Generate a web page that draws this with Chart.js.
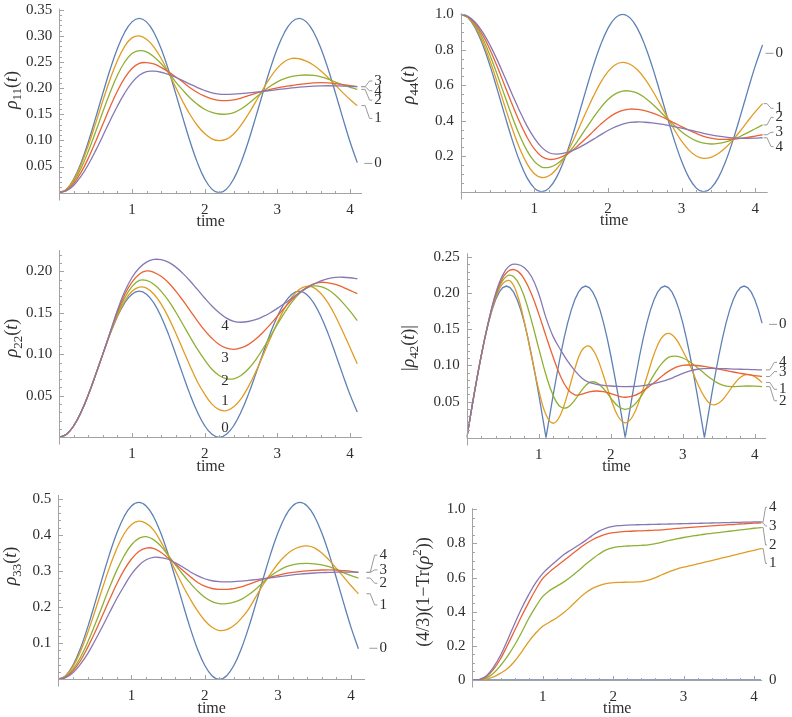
<!DOCTYPE html>
<html>
<head>
<meta charset="utf-8">
<title>Density matrix elements versus time</title>
<script src="https://cdn.jsdelivr.net/npm/chart.js@4.4.1/dist/chart.umd.min.js"></script>
<style>
  html, body { margin: 0; padding: 0; background: #ffffff; }
  #sheet { position: relative; width: 792px; height: 717px; overflow: hidden; }
  #sheet canvas { position: absolute; }
</style>
</head>
<body>
<div id="sheet"></div>
<script>
// Time samples shared by all curves
const T = [0,0.1,0.2,0.3,0.4,0.5,0.6,0.7,0.8,0.9,1,1.1,1.2,1.3,1.4,1.5,1.6,1.7,1.8,1.9,2,2.1,2.2,2.3,2.4,2.5,2.6,2.7,2.8,2.9,3,3.1,3.2,3.3,3.4,3.5,3.6,3.7,3.8,3.9,4,4.1];
// Finer samples for the cusped |rho42| curve 0
const T_FINE = [0,0.05,0.1,0.15,0.2,0.25,0.3,0.35,0.4,0.45,0.5,0.55,0.6,0.65,0.7,0.75,0.8,0.85,0.9,0.95,1,1.05,1.1,1.15,1.2,1.25,1.3,1.35,1.4,1.45,1.5,1.55,1.6,1.65,1.7,1.75,1.8,1.85,1.9,1.95,2,2.05,2.1,2.15,2.2,2.25,2.3,2.35,2.4,2.45,2.5,2.55,2.6,2.65,2.7,2.75,2.8,2.85,2.9,2.95,3,3.05,3.1,3.15,3.2,3.25,3.3,3.35,3.4,3.45,3.5,3.55,3.6,3.65,3.7,3.75,3.8,3.85,3.9,3.95,4,4.05,4.1];

// rho11(t), curves 0..4
const R11_0 = [0,.0068,.0264,.0575,.0974,.1430,.1904,.2359,.2758,.3069,.3266,.3333,.3266,.3069,.2758,.2359,.1904,.1430,.0974,.0575,.0264,.0068,0,.0068,.0264,.0575,.0974,.1430,.1904,.2359,.2758,.3069,.3266,.3333,.3266,.3069,.2758,.2359,.1904,.1430,.0974,.0575];
const R11_1 = [0,.0063,.0247,.0536,.0907,.1326,.1760,.2173,.2529,.2799,.2960,.2998,.2935,.2790,.2570,.2305,.2020,.1740,.1490,.1285,.1130,.1030,.0995,.1024,.1124,.1290,.1500,.1733,.1972,.2197,.2381,.2508,.2567,.2561,.2516,.2437,.2328,.2197,.2057,.1914,.1780,.1665];
const R11_2 = [0,.0055,.0215,.0469,.0794,.1164,.1551,.1921,.2246,.2499,.2660,.2715,.2693,.2600,.2470,.2300,.2120,.1960,.1810,.1690,.1595,.1535,.1505,.1502,.1530,.1600,.1700,.1815,.1930,.2035,.2120,.2180,.2222,.2245,.2250,.2242,.2215,.2170,.2115,.2060,.2015,.1975];
const R11_3 = [0,.0045,.0178,.0390,.0662,.0978,.1312,.1642,.1943,.2195,.2375,.2474,.2488,.2462,.2395,.2310,.2215,.2115,.2005,.1915,.1845,.1795,.1765,.1760,.1775,.1810,.1855,.1900,.1940,.1975,.2005,.2030,.2050,.2070,.2085,.2098,.2103,.2098,.2085,.2068,.2048,.2028];
const R11_4 = [0,.0037,.0144,.0315,.0540,.0804,.1090,.1381,.1658,.1904,.2104,.2245,.2317,.2323,.2303,.2263,.2207,.2144,.2076,.2010,.1954,.1910,.1885,.1880,.1885,.1895,.1908,.1922,.1937,.1953,.1970,.1987,.2003,.2017,.2029,.2038,.2043,.2045,.2043,.2039,.2034,.2027];

// rho44(t)
const R44_0 = [1,.9797,.9207,.8274,.7077,.5711,.4289,.2923,.1726,.0794,.0203,0,.0203,.0794,.1726,.2923,.4289,.5711,.7077,.8274,.9207,.9797,1,.9797,.9207,.8274,.7077,.5711,.4289,.2923,.1726,.0794,.0203,0,.0203,.0794,.1726,.2923,.4289,.5711,.7077,.8274];
const R44_1 = [1,.9817,.9283,.8439,.7350,.6107,.4810,.3558,.2452,.1582,.1010,.0800,.0899,.1266,.1861,.2636,.3538,.4459,.5357,.6150,.6765,.7156,.7290,.7182,.6869,.6373,.5733,.5003,.4241,.3506,.2857,.2345,.2010,.1880,.1941,.2150,.2487,.2928,.3437,.3980,.4495,.4963];
const R44_2 = [1,.9840,.9370,.8625,.7665,.6552,.5380,.4225,.3184,.2319,.1709,.1389,.1373,.1550,.1890,.2363,.2933,.3550,.4165,.4730,.5192,.5516,.5675,.5670,.5552,.5300,.4960,.4560,.4140,.3740,.3380,.3080,.2860,.2735,.2690,.2720,.2807,.2946,.3125,.3332,.3550,.3765];
const R44_3 = [1,.9863,.9460,.8822,.7986,.7010,.5960,.4914,.3927,.3075,.2412,.1986,.1820,.1867,.2024,.2264,.2623,.2997,.3401,.3795,.4139,.4412,.4590,.4660,.4638,.4566,.4442,.4280,.4090,.3880,.3666,.3462,.3282,.3125,.3019,.2955,.2951,.2970,.3008,.3063,.3135,.3210];
const R44_4 = [1,.9880,.9535,.8979,.8249,.7388,.6445,.5485,.4553,.3712,.3014,.2498,.2196,.2121,.2172,.2293,.2472,.2699,.2947,.3205,.3448,.3654,.3813,.3906,.3930,.3915,.3880,.3827,.3756,.3670,.3582,.3484,.3387,.3293,.3206,.3133,.3074,.3033,.3013,.3010,.3020,.3040];

// rho22(t)
const R22_0 = [0,.0036,.0140,.0304,.0514,.0755,.1005,.1246,.1456,.1620,.1724,.1760,.1724,.1620,.1456,.1246,.1005,.0755,.0514,.0304,.0140,.0036,0,.0036,.0140,.0304,.0514,.0755,.1005,.1246,.1456,.1620,.1724,.1760,.1724,.1620,.1456,.1246,.1005,.0755,.0514,.0304];
const R22_1 = [0,.0036,.0140,.0304,.0514,.0755,.1005,.1250,.1465,.1640,.1760,.1810,.1797,.1726,.1607,.1448,.1260,.1059,.0857,.0669,.0519,.0400,.0333,.0321,.0367,.0463,.0607,.0782,.0978,.1183,.1379,.1553,.1689,.1780,.1819,.1803,.1733,.1616,.1458,.1275,.1081,.0886];
const R22_2 = [0,.0036,.0140,.0304,.0514,.0755,.1005,.1255,.1490,.1680,.1815,.1890,.1890,.1844,.1761,.1648,.1512,.1362,.1208,.1061,.0932,.0819,.0744,.0705,.0705,.0745,.0822,.0930,.1064,.1210,.1360,.1503,.1628,.1728,.1796,.1824,.1815,.1777,.1711,.1622,.1519,.1406];
const R22_3 = [0,.0036,.0140,.0304,.0514,.0755,.1005,.1262,.1515,.1720,.1870,.1965,.2004,.1988,.1940,.1864,.1763,.1649,.1526,.1403,.1288,.1193,.1117,.1073,.1060,.1076,.1117,.1180,.1262,.1357,.1458,.1561,.1657,.1740,.1804,.1848,.1867,.1860,.1842,.1810,.1770,.1730];
const R22_4 = [0,.0036,.0140,.0304,.0514,.0755,.1005,.1268,.1530,.1755,.1925,.2040,.2110,.2142,.2140,.2110,.2053,.1975,.1883,.1781,.1678,.1582,.1500,.1435,.1397,.1386,.1395,.1417,.1453,.1498,.1553,.1613,.1676,.1738,.1795,.1844,.1884,.1912,.1926,.1928,.1922,.1910];

// |rho42(t)|  (curve 0 on T_FINE)
const R42_0 = [0,.0299,.0592,.0872,.1135,.1375,.1587,.1767,.1910,.2015,.2079,.2100,.2079,.2015,.1910,.1767,.1587,.1375,.1135,.0872,.0592,.0299,
               0,.0299,.0592,.0872,.1135,.1375,.1587,.1767,.1910,.2015,.2079,.2100,.2079,.2015,.1910,.1767,.1587,.1375,.1135,.0872,.0592,.0299,
               0,.0299,.0592,.0872,.1135,.1375,.1587,.1767,.1910,.2015,.2079,.2100,.2079,.2015,.1910,.1767,.1587,.1375,.1135,.0872,.0592,.0299,
               0,.0299,.0592,.0872,.1135,.1375,.1587,.1767,.1910,.2015,.2079,.2100,.2079,.2015,.1910,.1767,.1587];
const R42_1 = [0,.0592,.1135,.1590,.1935,.2135,.2173,.1983,.1601,.1118,.0657,.0318,.0200,.0314,.0607,.0953,.1212,.1269,.1128,.0854,.0540,.0297,.0206,.0290,.0525,.0841,.1155,.1375,.1445,.1374,.1200,.1000,.0760,.0565,.0460,.0480,.0585,.0725,.0838,.0877,.0845,.0765];
const R42_2 = [0,.0592,.1135,.1595,.1955,.2180,.2253,.2173,.1948,.1615,.1234,.0869,.0583,.0427,.0421,.0521,.0662,.0762,.0764,.0678,.0549,.0436,.0393,.0433,.0544,.0702,.0873,.1020,.1113,.1130,.1104,.1049,.0973,.0890,.0812,.0749,.0713,.0707,.0712,.0716,.0714,.0708];
const R42_3 = [0,.0592,.1135,.1600,.1975,.2215,.2320,.2310,.2193,.1986,.1712,.1407,.1113,.0854,.0674,.0594,.0605,.0635,.0647,.0637,.0612,.0578,.0560,.0575,.0618,.0685,.0762,.0844,.0918,.0973,.1003,.1006,.1000,.0988,.0970,.0950,.0930,.0910,.0892,.0875,.0860,.0848];
const R42_4 = [0,.0592,.1135,.1605,.1995,.2255,.2385,.2400,.2355,.2230,.1990,.1660,.1400,.1220,.1060,.0930,.0825,.0765,.0740,.0726,.0716,.0710,.0707,.0709,.0715,.0728,.0748,.0775,.0808,.0848,.0890,.0925,.0948,.0958,.0960,.0958,.0955,.0951,.0948,.0945,.0942,.0939];

// rho33(t)
const R33_0 = [0,.0099,.0389,.0846,.1432,.2102,.2798,.3468,.4054,.4511,.4801,.4900,.4801,.4511,.4054,.3468,.2798,.2102,.1432,.0846,.0389,.0099,0,.0099,.0389,.0846,.1432,.2102,.2798,.3468,.4054,.4511,.4801,.4900,.4801,.4511,.4054,.3468,.2798,.2102,.1432,.0846];
const R33_1 = [0,.0089,.0347,.0756,.1280,.1879,.2501,.3100,.3624,.4032,.4291,.4380,.4320,.4140,.3815,.3430,.3010,.2600,.2230,.1900,.1630,.1440,.1350,.1375,.1489,.1686,.1946,.2290,.2630,.2920,.3200,.3420,.3580,.3670,.3695,.3640,.3500,.3300,.3070,.2830,.2590,.2370];
const R33_2 = [0,.0069,.0275,.0596,.1018,.1508,.2025,.2547,.3024,.3423,.3726,.3905,.3950,.3870,.3690,.3440,.3170,.2910,.2670,.2450,.2270,.2150,.2095,.2095,.2135,.2215,.2340,.2500,.2690,.2860,.3000,.3105,.3170,.3203,.3210,.3200,.3170,.3120,.3040,.2950,.2870,.2805];
const R33_3 = [0,.0059,.0233,.0507,.0878,.1294,.1752,.2208,.2646,.3030,.3332,.3541,.3635,.3627,.3520,.3360,.3195,.3020,.2850,.2690,.2580,.2515,.2492,.2492,.2510,.2560,.2630,.2705,.2770,.2830,.2880,.2925,.2960,.2985,.3005,.3018,.3027,.3030,.3025,.3010,.2990,.2960];
const R33_4 = [0,.0047,.0184,.0414,.0705,.1068,.1449,.1849,.2238,.2588,.2914,.3154,.3312,.3378,.3369,.3325,.3225,.3110,.2980,.2870,.2785,.2730,.2705,.2700,.2705,.2720,.2740,.2762,.2785,.2810,.2838,.2865,.2890,.2912,.2930,.2945,.2955,.2962,.2966,.2968,.2968,.2965];

// (4/3)(1-Tr(rho^2))
const MIX_0 = [0,0,0,0,0,0,0,0,0,0,0,0,0,0,0,0,0,0,0,0,0,0,0,0,0,0,0,0,0,0,0,0,0,0,0,0,0,0,0,0,0,0];
const MIX_1 = [0,.0005,.005,.018,.040,.068,.110,.165,.225,.275,.315,.340,.365,.395,.432,.472,.508,.535,.553,.565,.570,.572,.573,.574,.577,.585,.600,.618,.635,.650,.661,.670,.680,.690,.700,.710,.720,.730,.740,.750,.760,.770];
const MIX_2 = [0,.001,.012,.040,.085,.140,.205,.280,.360,.430,.490,.525,.550,.575,.605,.638,.675,.708,.738,.762,.776,.782,.785,.787,.789,.792,.799,.808,.818,.827,.835,.842,.848,.854,.859,.864,.869,.874,.879,.884,.889,.893];
const MIX_3 = [0,.002,.020,.062,.125,.205,.290,.375,.455,.530,.595,.635,.668,.700,.733,.765,.795,.820,.840,.855,.863,.868,.871,.873,.874,.876,.878,.880,.884,.888,.891,.894,.897,.900,.903,.906,.909,.911,.914,.917,.919,.921];
const MIX_4 = [0,.003,.025,.075,.145,.235,.330,.420,.500,.570,.625,.665,.700,.735,.762,.788,.815,.846,.872,.890,.900,.905,.908,.909,.910,.911,.912,.913,.914,.915,.916,.917,.918,.919,.920,.921,.922,.923,.924,.925,.926,.927];

// Tick values and their labels
const X_TICKS = [1, 2, 3, 4];
const X_LABELS = ['1', '2', '3', '4'];
const Y_TICKS_11 = [0.05, 0.1, 0.15, 0.2, 0.25, 0.3, 0.35];
const Y_LABELS_11 = ['0.05', '0.10', '0.15', '0.20', '0.25', '0.30', '0.35'];
const Y_TICKS_44 = [0.2, 0.4, 0.6, 0.8, 1.0];
const Y_LABELS_44 = ['0.2', '0.4', '0.6', '0.8', '1.0'];
const Y_TICKS_22 = [0.05, 0.1, 0.15, 0.2];
const Y_LABELS_22 = ['0.05', '0.10', '0.15', '0.20'];
const Y_TICKS_42 = [0.05, 0.1, 0.15, 0.2, 0.25];
const Y_LABELS_42 = ['0.05', '0.10', '0.15', '0.20', '0.25'];
const Y_TICKS_33 = [0.1, 0.2, 0.3, 0.4, 0.5];
const Y_LABELS_33 = ['0.1', '0.2', '0.3', '0.4', '0.5'];
const Y_TICKS_MIX = [0, 0.2, 0.4, 0.6, 0.8, 1.0];
const Y_LABELS_MIX = ['0', '0.2', '0.4', '0.6', '0.8', '1.0'];
const CURVE_NAMES = ['0', '1', '2', '3', '4'];

// Styling
const COLORS = ['#5e81b5', '#e19c24', '#8fb032', '#eb6235', '#8778b3'];
const AXIS_GREY = '#a3a3a3';
const TEXT_GREY = '#2e2e2e';
const LEADER_GREY = '#9a9a9a';
const SERIF = '"Liberation Serif", "Times New Roman", serif';

// Panel layout: box = canvas rect on page, area = plot rect on page [left, top, right, bottom]
const PANELS = [
  { box: [0, 0, 396, 235], area: [59.3, 8.6, 362, 192.7], xMax: 4.165, yMax: 0.352,
    yTicks: Y_TICKS_11, yLabels: Y_LABELS_11, yMinor: 0.01,
    series: [R11_0, R11_1, R11_2, R11_3, R11_4], times: [T, T, T, T, T],
    title: [['ρ', 'i'], ['11', 'sub'], ['(', ''], ['t', 'i'], [')', '']], titleAt: [12, 90],
    ends: { at: [0.056, 0.142, 0.177, 0.2136, 0.195], kind: ['dash', 'br', 'br', 'br', 'br'], s: 4, w: 11 } },
  { box: [396, 0, 396, 235], area: [460.7, 13.4, 767.7, 191.7], xMax: 4.17, yMax: 1.005,
    yTicks: Y_TICKS_44, yLabels: Y_LABELS_44, yMinor: 0.05,
    series: [R44_0, R44_1, R44_2, R44_3, R44_4], times: [T, T, T, T, T],
    title: [['ρ', 'i'], ['44', 'sub'], ['(', ''], ['t', 'i'], [')', '']], titleAt: [409, 85],
    ends: { at: [0.78, 0.47, 0.419, 0.335, 0.254], kind: ['dash', 'br', 'br', 'br', 'br'], s: 1, w: 10 } },
  { box: [0, 235, 396, 240], area: [59.3, 250.1, 362, 437.3], xMax: 4.165, yMax: 0.2255,
    yTicks: Y_TICKS_22, yLabels: Y_LABELS_22, yMinor: 0.01,
    series: [R22_0, R22_1, R22_2, R22_3, R22_4], times: [T, T, T, T, T],
    title: [['ρ', 'i'], ['22', 'sub'], ['(', ''], ['t', 'i'], [')', '']], titleAt: [12.7, 338],
    inline: { t: 2.28, at: [0.011, 0.044, 0.068, 0.095, 0.1345] } },
  { box: [396, 235, 396, 240], area: [466.8, 253.3, 766, 437.7], xMax: 4.155, yMax: 0.2554,
    yTicks: Y_TICKS_42, yLabels: Y_LABELS_42, yMinor: 0.01,
    series: [R42_0, R42_1, R42_2, R42_3, R42_4], times: [T_FINE, T, T, T, T], sharp: [true, false, false, false, false],
    title: [['|', ''], ['ρ', 'i'], ['42', 'sub'], ['(', ''], ['t', 'i'], [')', ''], ['|', '']], titleAt: [409, 348],
    ends: { at: [0.157, 0.067, 0.0512, 0.0915, 0.1044], kind: ['dash', 'br', 'br', 'br', 'br'], s: 4, w: 11 } },
  { box: [0, 475, 396, 242], area: [58.3, 495, 365, 679.3], xMax: 4.19, yMax: 0.5105,
    yTicks: Y_TICKS_33, yLabels: Y_LABELS_33, yMinor: 0.02,
    series: [R33_0, R33_1, R33_2, R33_3, R33_4], times: [T, T, T, T, T],
    title: [['ρ', 'i'], ['33', 'sub'], ['(', ''], ['t', 'i'], [')', '']], titleAt: [11.7, 566],
    ends: { at: [0.086, 0.206, 0.266, 0.303, 0.344], kind: ['dash', 'br', 'br', 'br', 'br'], s: 8, w: 11 } },
  { box: [396, 475, 396, 242], area: [472.4, 508.3, 762.1, 680], xMax: 4.115, yMax: 1.006,
    yTicks: Y_TICKS_MIX, yLabels: Y_LABELS_MIX, yMinor: 0.05,
    series: [MIX_0, MIX_1, MIX_2, MIX_3, MIX_4], times: [T, T, T, T, T],
    title: [['(4/3)(1−Tr(', ''], ['ρ', 'i'], ['2', 'sup'], ['))', '']], titleAt: [424, 592],
    ends: { at: [0, 0.683, 0.791, 0.902, 1.012], kind: ['none', 'br', 'br', 'br', 'br'], s: 0, w: 6 } }
];

// Draws rotated axis title with italic / sub / sup pieces
function drawRichTitle(ctx, segs, cx, cy, size) {
  const fonts = {
    '': size + 'px ' + SERIF,
    'i': 'italic ' + size + 'px ' + SERIF,
    'sub': Math.round(size * 0.72) + 'px ' + SERIF,
    'sup': Math.round(size * 0.72) + 'px ' + SERIF
  };
  let w = 0;
  segs.forEach(([s, k]) => { ctx.font = fonts[k]; w += ctx.measureText(s).width; });
  ctx.save();
  ctx.translate(cx, cy);
  ctx.rotate(-Math.PI / 2);
  ctx.fillStyle = TEXT_GREY;
  ctx.textAlign = 'left';
  ctx.textBaseline = 'middle';
  let xx = -w / 2;
  segs.forEach(([s, k]) => {
    ctx.font = fonts[k];
    const dy = k === 'sub' ? size * 0.3 : (k === 'sup' ? -size * 0.35 : 0);
    ctx.fillText(s, xx, dy);
    xx += ctx.measureText(s).width;
  });
  ctx.restore();
}

// Mathematica-like axes, minor ticks, titles and curve callouts
function makeDecor(p) {
  return {
    id: 'decor',
    afterDatasetsDraw(chart) {
      const { ctx, chartArea: a, scales: { x, y } } = chart;
      const x0 = Math.round(x.getPixelForValue(0)) + 0.5;
      const y0 = Math.round(y.getPixelForValue(0)) + 0.5;
      ctx.save();
      ctx.strokeStyle = AXIS_GREY;
      ctx.lineWidth = 1;
      ctx.beginPath();
      ctx.moveTo(a.left, y0); ctx.lineTo(a.right, y0);
      ctx.moveTo(x0, a.top); ctx.lineTo(x0, y0 + 7);
      // x ticks every 0.2, major at integers
      const nx = Math.floor(x.max / 0.2 + 1e-6);
      for (let k = 1; k <= nx; k++) {
        const v = k * 0.2;
        const major = X_TICKS.some(m => Math.abs(m - v) < 1e-6);
        const px = Math.round(x.getPixelForValue(v)) + 0.5;
        ctx.moveTo(px, y0); ctx.lineTo(px, y0 - (major ? 4.5 : 2.5));
      }
      const ny = Math.floor(y.max / p.yMinor + 1e-6);
      for (let k = 1; k <= ny; k++) {
        const v = k * p.yMinor;
        const major = p.yTicks.some(m => Math.abs(m - v) < 1e-6);
        const py = Math.round(y.getPixelForValue(v)) + 0.5;
        ctx.moveTo(x0, py); ctx.lineTo(x0 + (major ? 4.5 : 2.5), py);
      }
      ctx.stroke();
      ctx.restore();
    },
    afterDraw(chart) {
      const { ctx, chartArea: a, scales: { x, y } } = chart;
      const [bx, by] = p.box;
      ctx.save();
      ctx.fillStyle = TEXT_GREY;
      ctx.font = '16px ' + SERIF;
      ctx.textAlign = 'center';
      ctx.textBaseline = 'middle';
      ctx.fillText('time', (a.left + a.right) / 2, a.bottom + 29);
      drawRichTitle(ctx, p.title, p.titleAt[0] - bx, p.titleAt[1] - by, 18);

      ctx.font = '15px ' + SERIF;
      ctx.fillStyle = TEXT_GREY;
      if (p.inline) {
        ctx.textAlign = 'center';
        p.inline.at.forEach((v, i) => {
          ctx.fillText(CURVE_NAMES[i], x.getPixelForValue(p.inline.t), y.getPixelForValue(v));
        });
      }
      if (p.ends) {
        const e = p.ends;
        ctx.strokeStyle = LEADER_GREY;
        ctx.lineWidth = 1;
        ctx.textAlign = 'left';
        chart.data.datasets.forEach((ds, i) => {
          const last = ds.data[ds.data.length - 1];
          const xe = x.getPixelForValue(last.x);
          const ye = y.getPixelForValue(last.y);
          const yl = y.getPixelForValue(e.at[i]);
          ctx.beginPath();
          if (e.kind[i] === 'dash') {
            ctx.moveTo(xe + e.s + e.w - 8, yl); ctx.lineTo(xe + e.s + e.w, yl);
          } else if (e.kind[i] === 'br') {
            ctx.moveTo(xe + e.s, ye);
            ctx.lineTo(xe + e.s + e.w * 0.35, ye);
            ctx.lineTo(xe + e.s + e.w * 0.75, yl);
            ctx.lineTo(xe + e.s + e.w, yl);
          }
          ctx.stroke();
          ctx.fillText(CURVE_NAMES[i], xe + e.s + e.w + 2, yl);
        });
      }
      ctx.restore();
    }
  };
}

const sheet = document.getElementById('sheet');

function makePanel(p) {
  const [bx, by, bw, bh] = p.box;
  const [l, t, r, b] = p.area;
  const cv = document.createElement('canvas');
  cv.width = bw; cv.height = bh;
  cv.style.left = bx + 'px'; cv.style.top = by + 'px';
  cv.style.width = bw + 'px'; cv.style.height = bh + 'px';
  sheet.appendChild(cv);

  const datasets = p.series.map((arr, i) => ({
    data: p.times[i].map((tv, k) => ({ x: tv, y: arr[k] })),
    borderColor: COLORS[i],
    borderWidth: 1.3,
    pointRadius: 0,
    fill: false,
    tension: (p.sharp && p.sharp[i]) ? 0 : 0.4,
    order: 4 - i
  }));

  const tickFont = { family: SERIF, size: 15 };
  new Chart(cv, {
    type: 'line',
    data: { datasets },
    options: {
      responsive: false,
      animation: false,
      devicePixelRatio: 1,
      events: [],
      layout: { padding: { left: 0, top: t - by, right: bx + bw - r, bottom: 0 } },
      scales: {
        x: {
          type: 'linear', min: 0, max: p.xMax,
          grid: { display: false, drawTicks: false }, border: { display: false },
          afterBuildTicks: s => { s.ticks = X_TICKS.map(v => ({ value: v })); },
          afterFit: s => { s.height = by + bh - b; s.paddingLeft = 0; s.paddingRight = 0; },
          ticks: { callback: (v, i) => X_LABELS[i], padding: 8, color: TEXT_GREY, font: tickFont, maxRotation: 0, autoSkip: false }
        },
        y: {
          type: 'linear', min: 0, max: p.yMax,
          grid: { display: false, drawTicks: false }, border: { display: false },
          afterBuildTicks: s => { s.ticks = p.yTicks.map(v => ({ value: v })); },
          afterFit: s => { s.width = l - bx; s.paddingTop = 0; s.paddingBottom = 0; },
          ticks: { callback: (v, i) => p.yLabels[i], padding: 7, color: TEXT_GREY, font: tickFont, autoSkip: false }
        }
      },
      plugins: { legend: { display: false }, tooltip: { enabled: false } }
    },
    plugins: [makeDecor(p)]
  });
}

PANELS.forEach(makePanel);
</script>
</body>
</html>
